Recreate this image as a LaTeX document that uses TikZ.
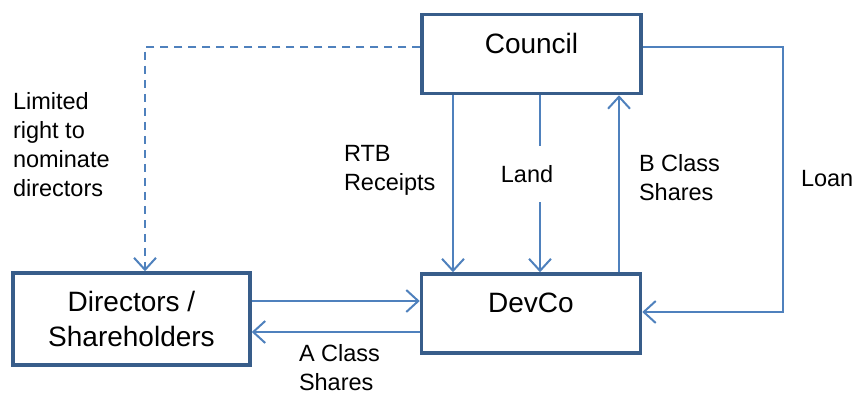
\documentclass[tikz,border=0pt]{standalone}
\usepackage{fontspec}
\setmainfont{Liberation Sans}
\usetikzlibrary{arrows.meta}
\definecolor{boxblue}{RGB}{56,93,138}
\definecolor{linkblue}{RGB}{79,129,189}

\begin{document}
\begin{tikzpicture}[x=1pt,y=-1pt,->,>={Straight Barb[length=12pt,width=22pt]},line width=2pt,draw=linkblue,main node/.style={rectangle,draw=boxblue,line width=3.5pt,fill=white,font=\fontsize{28}{35}\selectfont,inner sep=0pt,minimum width=219pt,minimum height=79pt,text height=17pt,text depth=19pt},note/.style={anchor=north west,inner sep=0pt,align=left,font=\fontsize{23.5}{29}\selectfont}]
  \useasboundingbox (0,0) rectangle (856,396);
  \node[main node] (1) at (531.5,54) {Council};
  \node[main node] (2) at (531,313.5) {DevCo};
  \node[main node,minimum width=237pt,minimum height=92pt,align=center,text height=,text depth=] (3) at (131.5,319) {Directors /\\Shareholders};

  \coordinate (dash turn) at (145,47);
  \coordinate (rtb) at (453,0);
  \coordinate (land) at (540,0);
  \coordinate (bshares) at (619,0);
  \coordinate (loan top) at (783,47);
  \coordinate (loan foot) at (783,312);
  \coordinate (ashares in) at (0,301);
  \coordinate (ashares out) at (0,332);

  \draw[dash pattern=on 8pt off 6pt] (1.west |- dash turn) -- (dash turn) -- (3.north -| dash turn);
  \draw (1.south -| rtb) -- (2.north -| rtb);
  \draw (1.south -| land) -- (2.north -| land);
  \draw (2.north -| bshares) -- (1.south -| bshares);
  \draw (1.east |- loan top) -- (loan top) -- (loan foot) -- (2.east |- loan foot);
  \draw (3.east |- ashares in) -- (2.west |- ashares in);
  \draw (2.west |- ashares out) -- (3.east |- ashares out);

  \node[note] (limited) at (12,91) {Limited\\right to\\nominate\\directors};
  \node[note] (receipts) at (343,144) {RTB\\Receipts};
  \node[note,anchor=center,fill=white,minimum height=56pt,minimum width=64pt] (landtext) at (527,174) {Land};
  \node[note] (bclass) at (638,153) {B Class\\Shares};
  \node[note] (loan) at (800,169) {Loan};
  \node[note] (aclass) at (298,343) {A Class\\Shares};
\end{tikzpicture}
\end{document}
